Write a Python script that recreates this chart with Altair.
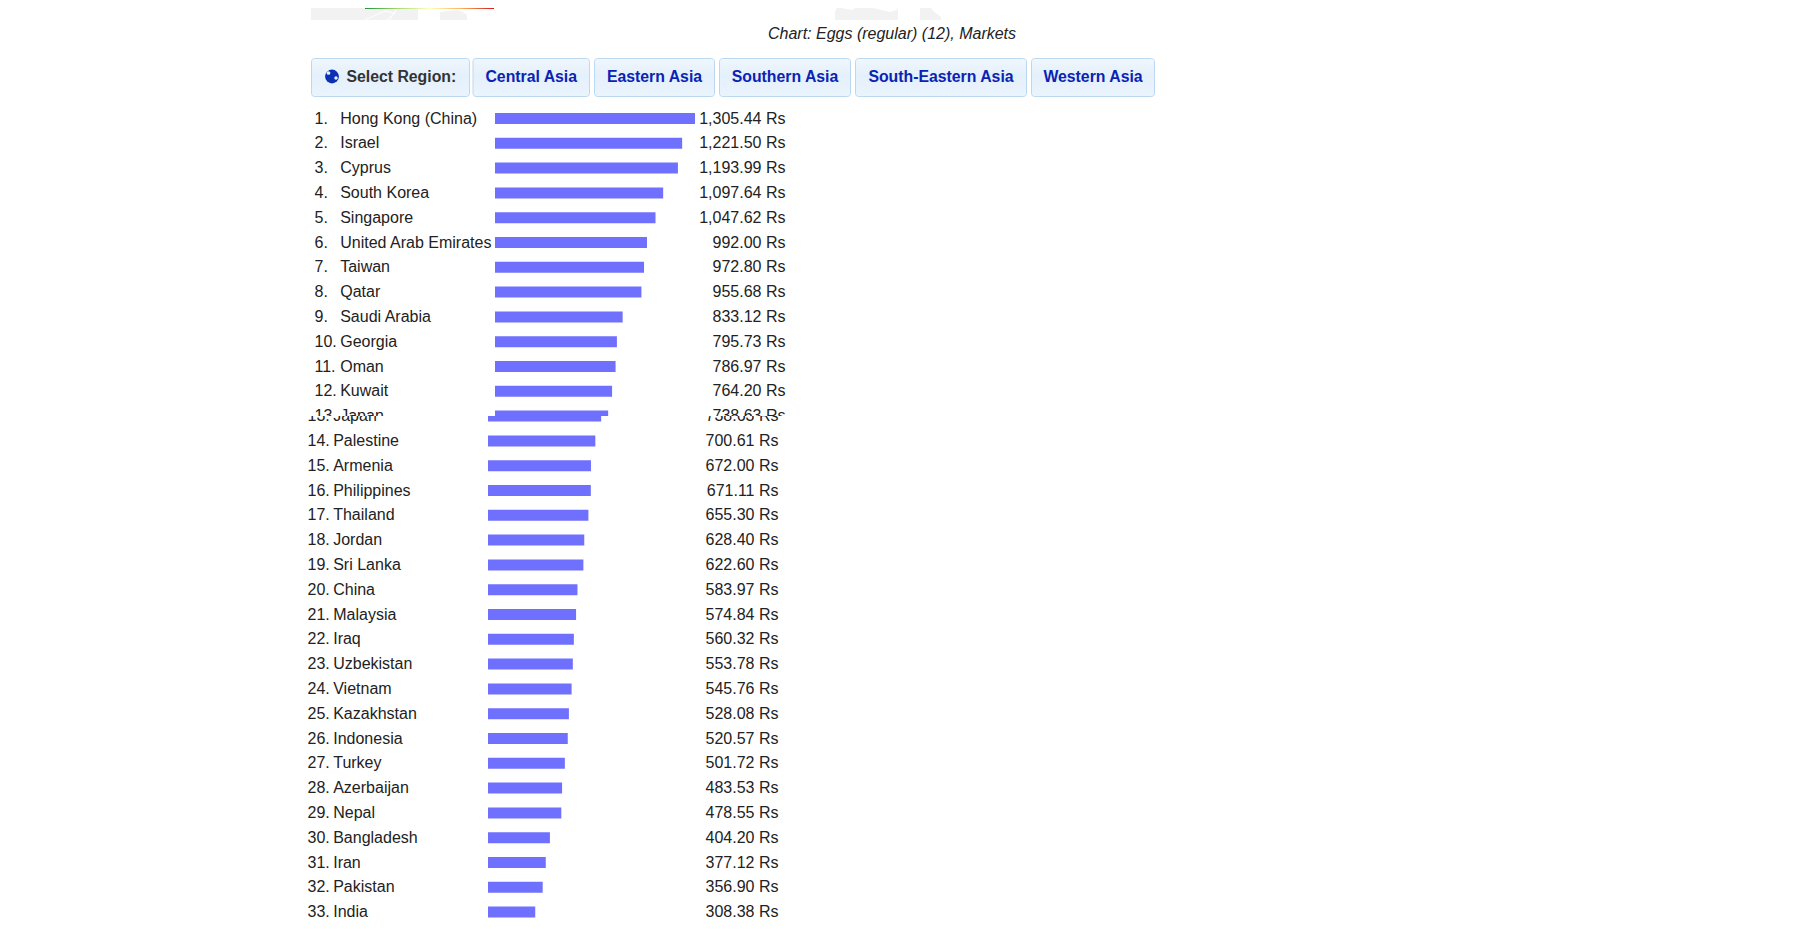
import altair as alt
import pandas as pd

countries = ["Hong Kong (China)", "Israel", "Cyprus", "South Korea", "Singapore", "United Arab Emirates",
             "Taiwan", "Qatar", "Saudi Arabia", "Georgia", "Oman", "Kuwait", "Japan", "Palestine", "Armenia",
             "Philippines", "Thailand", "Jordan", "Sri Lanka", "China", "Malaysia", "Iraq", "Uzbekistan",
             "Vietnam", "Kazakhstan", "Indonesia", "Turkey", "Azerbaijan", "Nepal", "Bangladesh", "Iran",
             "Pakistan", "India"]
prices = [1305.44, 1221.50, 1193.99, 1097.64, 1047.62, 992.00, 972.80, 955.68, 833.12, 795.73, 786.97, 764.20,
          738.63, 700.61, 672.00, 671.11, 655.30, 628.40, 622.60, 583.97, 574.84, 560.32, 553.78, 545.76,
          528.08, 520.57, 501.72, 483.53, 478.55, 404.20, 377.12, 356.90, 308.38]

regions = ["Central Asia", "Eastern Asia", "Southern Asia", "South-Eastern Asia", "Western Asia"]
button_edges = [(472.5, 590), (594, 715), (719, 851), (855, 1027), (1031, 1155)]

# bits of the map still showing at the top of the page
land_x = [[311, 418, 418, 311], [440, 457, 467, 463],
          [835, 837, 852, 860, 898, 897, 898, 890],
          [920, 929, 932, 941, 941, 922]]
land_top = [[0, 0, 0, 0], [12, 10, 15, 12],
            [12, 7, 10, 5, 0, 10, 13, 12],
            [0, 0, 10, 17, 12, 0]]
border_x = [[365, 378, 385, 394, 390], [397, 394, 386]]
border_y = [[20, 14, 11, 13, 20], [8, 14, 20]]

FONT = "Liberation Sans"
TEXT = "#222222"
BAR = "#7070ff"
WIDTH = 1170
HEAD_H = 97

df = pd.DataFrame({
    "rank": range(1, len(countries) + 1),
    "country": countries,
    "price": prices,
})
df["rank_label"] = df["rank"].astype(str) + "."
df["price_label"] = [f"{p:,.2f} Rs" for p in prices]


def table_panel(first, last, shift, page_top, page_bottom):
    # page y of row r is 118.5 + 24.8 * (r - 1)
    r_top = (page_top - 118.5) / 24.8 + 1
    r_bottom = (page_bottom - 118.5) / 24.8 + 1
    y = alt.Y("rank:Q", axis=None,
              scale=alt.Scale(domain=[r_bottom, r_top], nice=False, zero=False, padding=0))
    base = alt.Chart(df[(df["rank"] >= first) & (df["rank"] <= last)])
    bars = base.mark_bar(color=BAR, size=11, clip=True, orient="horizontal").encode(
        x=alt.X("price:Q", axis=None,
                scale=alt.Scale(domain=[0, 1305.44], range=[480 + shift, 680 + shift], padding=0)),
        y=y,
    )
    text = dict(font=FONT, fontSize=16, color=TEXT, baseline="middle", clip=True)
    ranks = base.mark_text(align="left", **text).encode(x=alt.value(299.5 + shift), y=y, text="rank_label:N")
    names = base.mark_text(align="left", **text).encode(x=alt.value(325.2 + shift), y=y, text="country:N")
    values = base.mark_text(align="right", **text).encode(x=alt.value(770.5 + shift), y=y, text="price_label:N")
    return (bars + ranks + names + values).properties(width=WIDTH, height=page_bottom - page_top)


def button(left, right, label, color, label_x=None):
    grad = alt.Gradient(gradient="linear", x1=0, x2=0, y1=0, y2=1,
                        stops=[alt.GradientStop(color="#f0f7fd", offset=0),
                               alt.GradientStop(color="#e4f0fb", offset=0.45),
                               alt.GradientStop(color="#eaf4fd", offset=1)])
    box = alt.Chart(pd.DataFrame({"a": [0]})).mark_rect(
        color=grad, stroke="#bcd8f0", strokeWidth=1, cornerRadius=3
    ).encode(x=alt.value(left - 8 + 0.5), x2=alt.value(right - 8 - 0.5), y=alt.value(50.5), y2=alt.value(88.5))
    centre = (left + right) / 2 - 8 if label_x is None else label_x
    words = alt.Chart(pd.DataFrame({"label": [label]})).mark_text(
        font=FONT, fontSize=15.8, fontWeight="bold", color=color, baseline="middle",
        align="center" if label_x is None else "left"
    ).encode(x=alt.value(centre), y=alt.value(68.5), text="label:N")
    return box + words


page_x = alt.X("x:Q", axis=None, scale=alt.Scale(domain=[0, WIDTH], range=[0, WIDTH], nice=False, zero=False))
page_y = alt.Y("y:Q", axis=None, scale=alt.Scale(domain=[HEAD_H, 0], nice=False, zero=False))

layers = []
for xs, tops in zip(land_x, land_top):
    land = pd.DataFrame({"x": [v - 8 for v in xs], "y": [t - 8 for t in tops], "y2": 12})
    layers.append(alt.Chart(land).mark_area(color="#f2f2f2", clip=True, orient="vertical").encode(
        x=page_x, y=page_y, y2="y2:Q"))
for xs, ys in zip(border_x, border_y):
    line = pd.DataFrame({"x": [v - 8 for v in xs], "y": [v - 8 for v in ys], "o": range(len(xs))})
    layers.append(alt.Chart(line).mark_line(color="#ffffff", strokeWidth=1, clip=True).encode(
        x=page_x, y=page_y, order="o:O"))

ramp = alt.Gradient(gradient="linear", x1=0, x2=1, y1=0, y2=0,
                    stops=[alt.GradientStop(color="#1a9641", offset=0),
                           alt.GradientStop(color="#a6d96a", offset=0.25),
                           alt.GradientStop(color="#ffffbf", offset=0.5),
                           alt.GradientStop(color="#fdae61", offset=0.75),
                           alt.GradientStop(color="#d7191c", offset=1)])
layers.append(alt.Chart(pd.DataFrame({"a": [0]})).mark_rect(color=ramp, clip=True).encode(
    x=alt.value(357), x2=alt.value(486), y=alt.value(0), y2=alt.value(1)))
legend_labels = pd.DataFrame({"label": ["308.38", "1,305.44"]})
layers.append(alt.Chart(legend_labels[:1]).mark_text(
    font=FONT, fontSize=12, color=TEXT, align="right", clip=True, baseline="bottom"
).encode(x=alt.value(350), y=alt.value(1), text="label:N"))
layers.append(alt.Chart(legend_labels[1:]).mark_text(
    font=FONT, fontSize=12, color=TEXT, align="left", clip=True, baseline="bottom"
).encode(x=alt.value(494), y=alt.value(1), text="label:N"))

layers.append(alt.Chart(pd.DataFrame({"label": ["Chart: Eggs (regular) (12), Markets"]})).mark_text(
    font=FONT, fontSize=16, fontStyle="italic", color=TEXT, baseline="middle"
).encode(x=alt.value(884), y=alt.value(25.5), text="label:N"))

layers.append(button(311, 470, "Select Region:", "#333333", label_x=338.5))
for (left, right), region in zip(button_edges, regions):
    layers.append(button(left, right, region, "#0a23b4"))

# globe icon
layers.append(alt.Chart(pd.DataFrame({"a": [0]})).mark_point(
    filled=True, shape="circle", size=190, color="#0b2fb5", opacity=1
).encode(x=alt.value(324), y=alt.value(68.5)))
layers.append(alt.Chart(pd.DataFrame({"a": [0]})).mark_point(
    filled=True, shape="circle", size=14, color="#e4f0fb", opacity=1
).encode(x=alt.value(320.5), y=alt.value(65)))
layers.append(alt.Chart(pd.DataFrame({"a": [0]})).mark_point(
    filled=True, shape="circle", size=12, color="#e4f0fb", opacity=1
).encode(x=alt.value(328), y=alt.value(70)))

header = alt.layer(*layers).properties(width=WIDTH, height=HEAD_H)

chart = alt.vconcat(
    header,
    table_panel(1, 13, 7, 105, 416),
    table_panel(13, 33, 0, 416, 921),
    spacing=0, bounds="flush"
).properties(padding=0).configure_view(stroke=None)

chart.save("out.html", embed_options={"renderer": "svg", "actions": False})
